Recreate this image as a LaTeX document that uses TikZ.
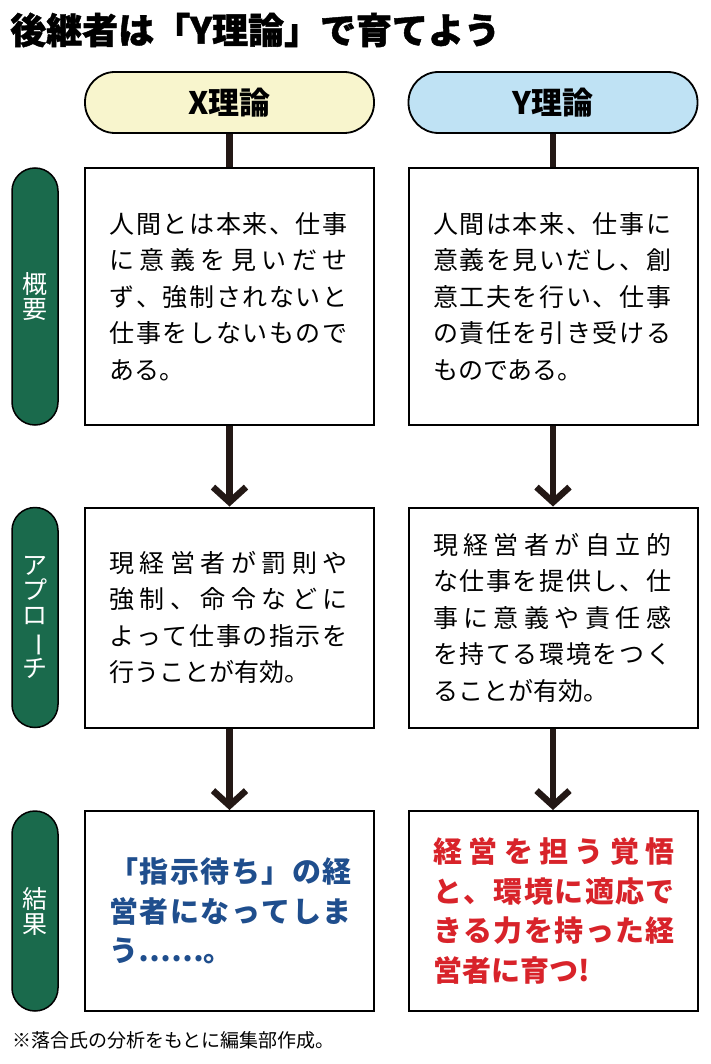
\documentclass[tikz,border=0pt]{standalone}
\usepackage{fontspec}
\usepackage{graphicx}
\setmainfont{Noto Sans CJK JP}
\usetikzlibrary{arrows.meta}
\definecolor{hdyellow}{HTML}{F8F5CD}
\definecolor{hdblue}{HTML}{BFE2F4}
\definecolor{sidegreen}{HTML}{1A6A4C}
\definecolor{inkline}{HTML}{231815}
\definecolor{resblue}{HTML}{1F4E8D}
\definecolor{resred}{HTML}{D8232A}
\ExplSyntaxOn
\NewDocumentCommand\jl{O{238pt}m}{\leavevmode\hbox~to~#1{\tl_map_inline:nn{#2}{##1\hfil}\unskip}}
\ExplSyntaxOff
\tikzset{
  header/.style={draw=black, line width=1.8pt, rounded corners=30pt, minimum width=289pt, minimum height=61pt, inner sep=0pt, font=\fontsize{31}{31}\selectfont\bfseries},
  sidepill/.style={draw=black, line width=1.5pt, fill=sidegreen, rounded corners=23pt, minimum width=46pt, inner sep=0pt, text=white, align=center, font=\fontsize{25}{25}\selectfont},
  box/.style={draw=black, line width=2pt, minimum width=289pt, inner sep=0pt, text width=240pt, align=left},
  bodytxt/.style={font=\fontsize{25}{36.5}\selectfont},
  restxt/.style={font=\fontsize{29}{39.5}\selectfont\bfseries},
  conn/.style={draw=inkline, line width=6.5pt},
  arr/.style={draw=inkline, line width=6.5pt, -{Straight Barb[length=15pt,width=33pt]}},
}
\begin{document}
\begin{tikzpicture}[x=1pt,y=-1pt]
\useasboundingbox (0,0) rectangle (710,1064);
\fill[white] (0,0) rectangle (710,1064);
\node[anchor=west, inner sep=0pt, font=\fontsize{36}{36}\selectfont\bfseries\addfontfeature{FakeBold=1.2}] (title) at (10,30) {後継者は「Y理論」で育てよう};
\node[header, fill=hdyellow] (hx) at (229.5,102.5) {X理論};
\node[header, fill=hdblue] (hy) at (553,102.5) {Y理論};
% row 1
\node[box, bodytxt, minimum height=257pt] (x1) at (229.5,296.5) {\jl{人間とは本来、仕事}\\\jl{に意義を見いだせ}\\\jl{ず、強制されないと}\\\jl{仕事をしないもので}\\ある。};
\node[box, bodytxt, minimum height=257pt] (y1) at (553,296.5) {\jl{人間は本来、仕事に}\\\jl{意義を見いだし、創}\\\jl{意工夫を行い、仕事}\\\jl{の責任を引き受ける}\\ものである。};
% row 2
\node[box, bodytxt, minimum height=220pt] (x2) at (229.5,617.5) {\jl{現経営者が罰則や}\\\jl{強制、命令などに}\\\jl{よって仕事の指示を}\\行うことが有効。};
\node[box, bodytxt, minimum height=220pt] (y2) at (553,617.5) {\jl{現経営者が自立的}\\\jl{な仕事を提供し、仕}\\\jl{事に意義や責任感}\\\jl{を持てる環境をつく}\\ることが有効。};
% row 3
\node[box, restxt, text=resblue, minimum height=200pt] (x3) at (229.5,911) {\jl[242pt]{「指示待ち」の経}\\\jl[242pt]{営者になってしま}\\う……。};
\node[box, restxt, text=resred, minimum height=200pt] (y3) at (553,911) {\jl[242pt]{経営を担う覚悟}\\\jl[242pt]{と、環境に適応で}\\\jl[242pt]{きる力を持った経}\\営者に育つ!};
% side labels
\node[sidepill, minimum height=257pt] (s1) at (35,296.5) {概\\要};
\node[sidepill, minimum height=220pt] (s2) at (35,617.5) {ア\\プ\\ロ\\\rotatebox[origin=c]{-90}{ー}\\チ};
\node[sidepill, minimum height=200pt] (s3) at (35,911) {結\\果};
% connectors
\draw[conn] (hx.south) -- (x1.north);
\draw[conn] (hy.south) -- (y1.north);
\draw[arr] (x1.south) -- (x2.north);
\draw[arr] (y1.south) -- (y2.north);
\draw[arr] (x2.south) -- (x3.north);
\draw[arr] (y2.south) -- (y3.north);
\node[anchor=west, inner sep=0pt, font=\fontsize{19}{19}\selectfont] (note) at (12,1040) {※落合氏の分析をもとに編集部作成。};
\end{tikzpicture}
\end{document}
